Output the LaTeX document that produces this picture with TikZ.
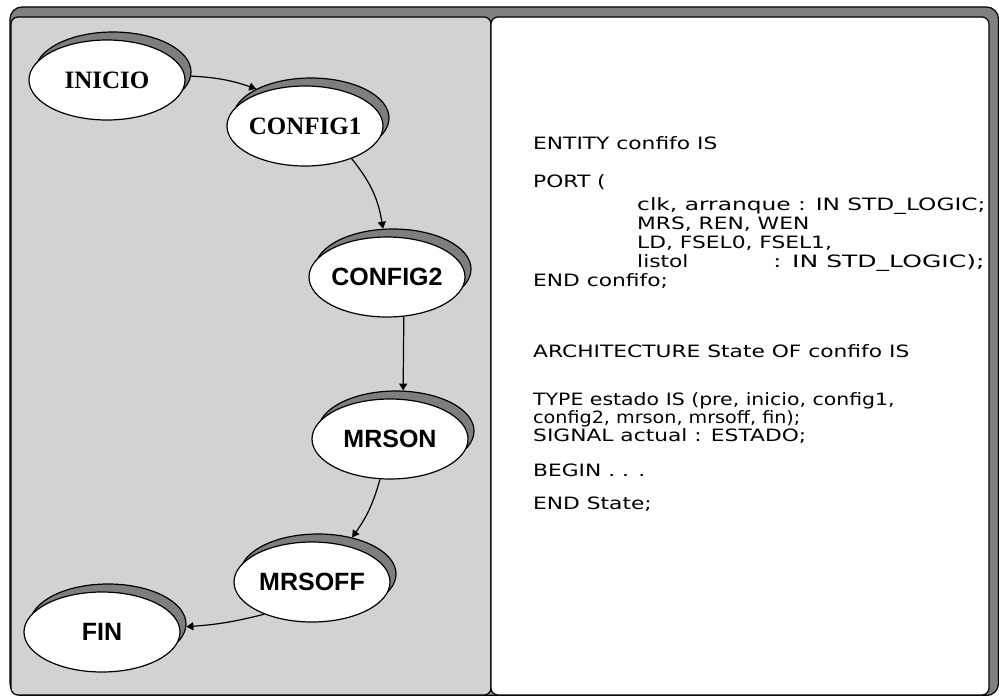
\documentclass[tikz,border=0pt]{standalone}
\usepackage{graphicx}
\usepackage{fontspec}
\setmainfont[FakeStretch=1.28]{DejaVu Sans}
\newfontfamily\stateserif{Liberation Serif}
\newfontfamily\statesans{Liberation Sans}
\usetikzlibrary{arrows.meta,shapes.geometric}

\definecolor{framegray}{HTML}{808080}
\definecolor{panelgray}{HTML}{D2D2D2}
\definecolor{shadowgray}{HTML}{7E7E7E}

% listing line set with its own horizontal tracking
\newcommand{\codeline}[2]{\scalebox{#1}[1]{#2}}

\begin{document}
\begin{tikzpicture}[x=1pt,y=-1pt,
  outline/.style={draw=black,line width=1.2pt},
  stateshape/.style={ellipse,outline,minimum width=156pt,minimum height=80pt,inner sep=0pt},
  state/.style={stateshape,fill=white},
  stateshadow/.style={stateshape,fill=shadowgray},
  serifname/.style={font=\stateserif\bfseries\fontsize{25}{25}\selectfont},
  sansname/.style={font=\statesans\bfseries\fontsize{25}{25}\selectfont},
  code/.style={anchor=base west,inner sep=0pt,font=\fontsize{17}{17}\selectfont},
  trans/.style={draw=black,line width=1.2pt,-{Triangle[length=7pt,width=8pt]}},
]
% canvas
\fill[white] (0,0) rectangle (999,696);
\useasboundingbox (0,0) rectangle (999,696);

% raised frame: dark band on top and right, two panels in front
\draw[outline,fill=framegray,rounded corners=12pt] (10,7) rectangle (998.5,695.5);
\draw[outline,fill=panelgray,rounded corners=7pt] (11,17) rectangle (491,695);
\draw[outline,fill=white,rounded corners=7pt] (491,17) rectangle (989,695);

% state bubbles: shadow first, white face on top
\node[stateshadow] (inicios)  at (113,72)  {};
\node[state,serifname] (inicio) at (107,80) {\makebox[0pt]{INICIO}};

\node[stateshadow] (config1s) at (311,118) {};
\node[state,serifname] (config1) at (305,126) {\makebox[0pt]{CONFIG1}};

\node[stateshadow] (config2s) at (393,269) {};
\node[state,sansname] (config2) at (387,277) {\makebox[0pt]{CONFIG2}};

\node[stateshadow] (mrsons) at (396,431) {};
\node[state,sansname] (mrson) at (390,439) {\makebox[0pt]{MRSON}};

\node[stateshadow] (mrsoffs) at (318,574) {};
\node[state,sansname] (mrsoff) at (312,582) {\makebox[0pt]{MRSOFF}};

\node[stateshadow] (fins) at (108,624) {};
\node[state,sansname] (fin) at (102,632) {\makebox[0pt]{FIN}};

% transitions
\draw[trans] (inicios.-3) to[bend left=8] (config1s.152);
\draw[trans] (config1.-35) to[bend left=15] (config2s.104);
\draw[trans] (config2.-67) -- (mrsons.80);
\draw[trans] (mrson.-104) to[bend left=10] (mrsoffs.47);
\draw[trans] (mrsoff.-146) to[bend left=5] (fins.-2);

% VHDL listing
\node[code] (l1)  at (533,149) {ENTITY confifo IS};
\node[code] (l2)  at (533,187) {PORT (};
\node[code] (l3)  at (637,210) {\codeline{1.07}{clk, arranque : IN STD\_LOGIC;}};
\node[code] (l4)  at (637,229) {MRS, REN, WEN};
\node[code] (l5)  at (637,248) {LD, FSEL0, FSEL1,};
\node[code] (l6)  at (637,267) {listol};
\node[code] (l6b) at (773,267) {\codeline{1.15}{: IN STD\_LOGIC);}};
\node[code] (l7)  at (533,286) {END confifo;};
\node[code] (l8)  at (533,357) {ARCHITECTURE State OF confifo IS};
\node[code] (l9)  at (533,405) {\codeline{0.94}{TYPE estado IS (pre, inicio, config1,}};
\node[code] (l10) at (533,423) {\codeline{0.88}{config2, mrson, mrsoff, fin);}};
\node[code] (l11) at (533,441) {SIGNAL actual : ESTADO;};
\node[code] (l12) at (533,476) {BEGIN . . .};
\node[code] (l13) at (533,509) {END State;};
\end{tikzpicture}
\end{document}
